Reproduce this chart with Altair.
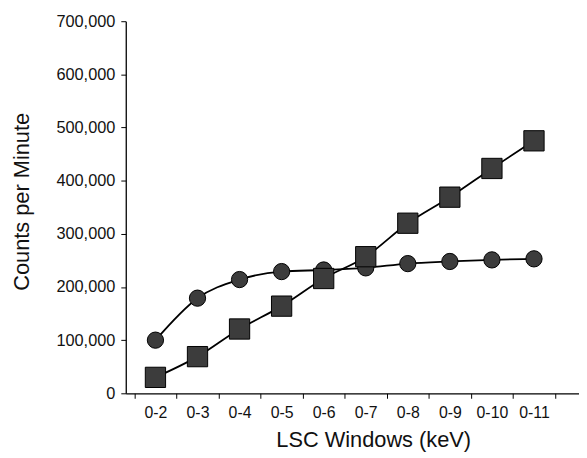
import altair as alt
import pandas as pd

windows = ["0-2", "0-3", "0-4", "0-5", "0-6", "0-7", "0-8", "0-9", "0-10", "0-11"]
circle_cpm = [100000, 179000, 214000, 229000, 232000, 236000, 244000, 248000, 251000, 253000]
square_cpm = [30000, 69000, 121000, 164000, 216000, 257000, 320000, 369000, 423000, 475000]
y_ticks = [0, 100000, 200000, 300000, 400000, 500000, 600000, 700000]

df = pd.DataFrame(
    {
        "window": windows * 2,
        "cpm": circle_cpm + square_cpm,
        "series": ["circle"] * len(windows) + ["square"] * len(windows),
    }
)

FONT = "Liberation Sans"

x_enc = alt.X(
    "window:N",
    sort=windows,
    scale=alt.Scale(type="band", paddingInner=0, paddingOuter=0.388, align=0.265),
    axis=alt.Axis(
        title="LSC Windows (keV)",
        labelAngle=0,
        tickBand="extent",
        tickSize=5,
        labelPadding=6,
        labelFontSize=16,
        labelFont=FONT,
        labelColor="#111",
        titleFont=FONT,
        titleFontSize=22,
        titleFontWeight="normal",
        titleColor="#111",
        titleX=250,
        titleY=54,
        titleBaseline="alphabetic",
        domainColor="black",
        tickColor="black",
        domainWidth=1.3,
    ),
)
y_enc = alt.Y(
    "cpm:Q",
    scale=alt.Scale(domain=[0, 700000], nice=False),
    axis=alt.Axis(
        title="Counts per Minute",
        values=y_ticks,
        format=",d",
        grid=False,
        tickSize=5,
        labelPadding=6,
        labelFontSize=16.5,
        labelFont=FONT,
        labelColor="#111",
        titleFont=FONT,
        titleFontSize=22,
        titleFontWeight="normal",
        titleColor="#111",
        titleX=-93,
        titleY=182,
        titleBaseline="bottom",
        domainColor="black",
        tickColor="black",
        domainWidth=1.3,
    ),
)

base = alt.Chart(df).encode(x=x_enc, y=y_enc)

lines = base.mark_line(interpolate="monotone", color="black", strokeWidth=1.8).encode(
    detail="series:N"
)
circles = (
    base.transform_filter(alt.datum.series == "circle")
    .mark_point(shape="circle", filled=True, fill="#3c3c3c", stroke="black",
                strokeWidth=1, size=270, opacity=1)
)
squares = (
    base.transform_filter(alt.datum.series == "square")
    .mark_point(shape="square", filled=True, fill="#3c3c3c", stroke="black",
                strokeWidth=1, size=420, opacity=1)
)

chart = (
    alt.layer(lines, circles, squares)
    .properties(
        width=458,
        height=376,
        autosize=alt.AutoSizeParams(type="none"),
        padding={"left": 119, "top": 11, "right": 0, "bottom": 62},
    )
    .configure_view(stroke=None)
)

chart.save("out.html", embed_options={"renderer": "svg", "actions": False})
